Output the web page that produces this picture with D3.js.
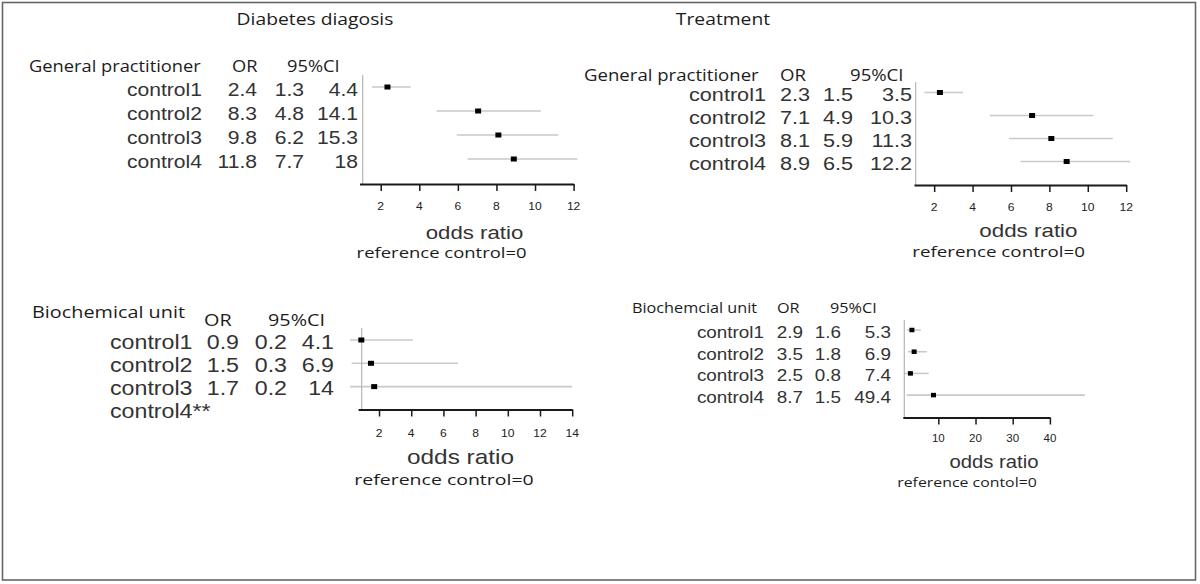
<!DOCTYPE html>
<html>
<head>
<meta charset="utf-8">
<script src="https://cdn.jsdelivr.net/npm/d3@7/dist/d3.min.js"></script>
<style>
  html, body { margin: 0; padding: 0; background: #fff; }
  svg { display: block; }
</style>
</head>
<body>
<svg id="chart" width="1200" height="584"></svg>
<script>
// ---------------- DATA ----------------
const titles = ["Diabetes diagosis", "Treatment"];
const groupNames = ["General practitioner", "General practitioner", "Biochemical unit", "Biochemcial unit"];
const footNotes = ["reference control=0", "reference control=0", "reference control=0", "reference contol=0"];

const gpControls = ["control1", "control2", "control3", "control4"];
const bioDxControls = ["control1", "control2", "control3", "control4**"];
const bioTxControls = ["control1", "control2", "control3", "control4"];

// Diabetes diagnosis – General practitioner (table text)
const dxGpOrText = ["2.4", "8.3", "9.8", "11.8"];
const dxGpLoText = ["1.3", "4.8", "6.2", "7.7"];
const dxGpHiText = ["4.4", "14.1", "15.3", "18"];
// Diabetes diagnosis – General practitioner (as plotted)
const dxGpOr = [2.35, 7.05, 8.1, 8.9];
const dxGpLo = [1.55, 4.9, 5.95, 6.5];
const dxGpHi = [3.55, 10.3, 11.2, 12.2];

// Treatment – General practitioner
const txGpOrText = ["2.3", "7.1", "8.1", "8.9"];
const txGpLoText = ["1.5", "4.9", "5.9", "6.5"];
const txGpHiText = ["3.5", "10.3", "11.3", "12.2"];
const txGpOr = [2.3, 7.1, 8.1, 8.9];
const txGpLo = [1.5, 4.9, 5.9, 6.5];
const txGpHi = [3.5, 10.3, 11.3, 12.2];

// Diabetes diagnosis – Biochemical unit (control4 not estimable)
const dxBioOrText = ["0.9", "1.5", "1.7"];
const dxBioLoText = ["0.2", "0.3", "0.2"];
const dxBioHiText = ["4.1", "6.9", "14"];
const dxBioOr = [0.9, 1.5, 1.7];
const dxBioLo = [0.2, 0.3, 0.2];
const dxBioHi = [4.1, 6.9, 14];

// Treatment – Biochemical unit
const txBioOrText = ["2.9", "3.5", "2.5", "8.7"];
const txBioLoText = ["1.6", "1.8", "0.8", "1.5"];
const txBioHiText = ["5.3", "6.9", "7.4", "49.4"];
const txBioOr = [2.9, 3.5, 2.5, 8.7];
const txBioLo = [1.6, 1.8, 0.8, 1.5];
const txBioHi = [5.3, 6.9, 7.4, 49.4];

// Axis ticks
const dxGpTicks = [2, 4, 6, 8, 10, 12];
const txGpTicks = [2, 4, 6, 8, 10, 12];
const dxBioTicks = [2, 4, 6, 8, 10, 12, 14];
const txBioTicks = [10, 20, 30, 40];
const axisDomains = [[0.9, 12], [0.95, 12], [0.7, 14], [0.45, 40]];

// ---------------- LAYOUT ----------------
const SANS = "'Open Sans', 'DejaVu Sans', sans-serif";
const ARIAL = "'Liberation Sans', Arial, sans-serif";
const INK = "#1c1c1c";

const svg = d3.select("#chart");

svg.append("rect")
  .attr("x", 2.5).attr("y", 2.5).attr("width", 1193).attr("height", 577.5)
  .attr("fill", "none").attr("stroke", "#666").attr("stroke-width", 1.6);

function txt(g, x, y, s, o) {
  return g.append("text")
    .attr("transform", `translate(${x},${y}) scale(${o.sx || 1},1)`)
    .attr("text-anchor", o.anchor || "start")
    .style("font-family", o.family || ARIAL)
    .style("font-size", o.size + "px")
    .style("fill", o.color || INK)
    .text(s);
}

// titles
txt(svg, 315, 25, titles[0], { family: SANS, size: 16.5, sx: 1.17, anchor: "middle" });
txt(svg, 723, 25, titles[1], { family: SANS, size: 16.5, sx: 1.17, anchor: "middle" });

const panels = [
  { name: groupNames[0], foot: footNotes[0], controls: gpControls,
    orT: dxGpOrText, loT: dxGpLoText, hiT: dxGpHiText, or: dxGpOr, lo: dxGpLo, hi: dxGpHi,
    ticks: dxGpTicks, domain: axisDomains[0],
    L: { hx: 29, hy: 72, orX: 232, ciX: 287, hSize: 15.5, hsx: 1.18,
         labR: 202, orR: 257, loR: 304, hiR: 358, rSize: 18.5, rsx: 1.14, dy: 8.5,
         y0: 87, step: 24, x0: 359.5, x1: 573.6, yAxDx: 3.2, yTop: 75, axY: 184,
         tickY: 210, tSize: 11, tsx: 1.1, mw: 6, mh: 5,
         orLX: 474.5, orLY: 238.5, orLSize: 18.5, orLsx: 1.2,
         fX: 441.6, fY: 257.5, fSize: 14, fsx: 1.32 } },
  { name: groupNames[1], foot: footNotes[1], controls: gpControls,
    orT: txGpOrText, loT: txGpLoText, hiT: txGpHiText, or: txGpOr, lo: txGpLo, hi: txGpHi,
    ticks: txGpTicks, domain: axisDomains[1],
    L: { hx: 584, hy: 81, orX: 780, ciX: 850, hSize: 15.5, hsx: 1.2,
         labR: 766, orR: 810, loR: 853, hiR: 912, rSize: 18.5, rsx: 1.17, dy: 8.5,
         y0: 92.5, step: 23, x0: 914, x1: 1126.2, yAxDx: 1.7, yTop: 82, axY: 185,
         tickY: 211, tSize: 11, tsx: 1.1, mw: 6, mh: 5,
         orLX: 1028.4, orLY: 237, orLSize: 18.5, orLsx: 1.21,
         fX: 998.6, fY: 257, fSize: 14, fsx: 1.34 } },
  { name: groupNames[2], foot: footNotes[2], controls: bioDxControls,
    orT: dxBioOrText, loT: dxBioLoText, hiT: dxBioHiText, or: dxBioOr, lo: dxBioLo, hi: dxBioHi,
    ticks: dxBioTicks, domain: axisDomains[2],
    L: { hx: 32, hy: 318, orX: 204, ciX: 268, ohy: 326, hSize: 16, hsx: 1.24,
         labL: 110, orR: 239, loR: 287, hiR: 334, rSize: 19.5, rsx: 1.19, dy: 8.5,
         y0: 340, step: 23.3, x0: 358.1, x1: 572.2, yAxDx: 3.6, yTop: 328, axY: 409.5,
         tickY: 437, tSize: 11, tsx: 1.1, mw: 6, mh: 5,
         orLX: 460.5, orLY: 464, orLSize: 20, orLsx: 1.22,
         fX: 444, fY: 485, fSize: 15, fsx: 1.3 } },
  { name: groupNames[3], foot: footNotes[3], controls: bioTxControls,
    orT: txBioOrText, loT: txBioLoText, hiT: txBioHiText, or: txBioOr, lo: txBioLo, hi: txBioHi,
    ticks: txBioTicks, domain: axisDomains[3],
    L: { hx: 632, hy: 313, orX: 777, ciX: 830, hSize: 14.5, hsx: 1.12,
         labR: 764, orR: 803, loR: 841, hiR: 891, rSize: 17, rsx: 1.11, dy: 8,
         y0: 330, step: 21.7, x0: 902.8, x1: 1049.9, yAxDx: 1.5, yTop: 320, axY: 417.5,
         tickY: 441.5, tSize: 10.5, tsx: 1.1, mw: 5, mh: 4.5,
         orLX: 994, orLY: 467.5, orLSize: 17.5, orLsx: 1.16,
         fX: 967, fY: 486.5, fSize: 13, fsx: 1.22 } }
];

panels.forEach(p => {
  const L = p.L;
  const g = svg.append("g");
  const y = d3.scalePoint().domain(p.controls).range([L.y0, L.y0 + L.step * (p.controls.length - 1)]);
  const x = d3.scaleLinear().domain(p.domain).range([L.x0, L.x1]);

  // headers
  txt(g, L.hx, L.hy, p.name, { family: SANS, size: L.hSize, sx: L.hsx });
  txt(g, L.orX, L.ohy || L.hy, "OR", { family: SANS, size: L.hSize, sx: L.hsx });
  txt(g, L.ciX, L.ohy || L.hy, "95%CI", { family: SANS, size: L.hSize, sx: L.hsx });

  // table rows
  p.controls.forEach((c, i) => {
    const yy = y(c) + L.dy;
    const o = { size: L.rSize, sx: L.rsx, anchor: "end", color: "#333" };
    if (L.labL !== undefined) txt(g, L.labL, yy, c, Object.assign({}, o, { anchor: "start" }));
    else txt(g, L.labR, yy, c, o);
    if (i < p.orT.length) {
      txt(g, L.orR, yy, p.orT[i], o);
      txt(g, L.loR, yy, p.loT[i], o);
      txt(g, L.hiR, yy, p.hiT[i], o);
    }
  });

  // CI lines
  const rows = p.or.map((v, i) => ({ c: p.controls[i], or: v, lo: p.lo[i], hi: p.hi[i] }));
  g.selectAll(".ci").data(rows).join("line")
    .attr("x1", d => x(d.lo)).attr("x2", d => x(d.hi))
    .attr("y1", d => y(d.c)).attr("y2", d => y(d.c))
    .attr("stroke", "#c9c9c9").attr("stroke-width", 1.6);

  // y axis line
  g.append("line")
    .attr("x1", L.x0 + L.yAxDx).attr("x2", L.x0 + L.yAxDx)
    .attr("y1", L.yTop).attr("y2", L.axY)
    .attr("stroke", "#b5b5b5").attr("stroke-width", 1.2);

  // x axis
  const ax = g.append("g").attr("transform", `translate(0,${L.axY})`)
    .call(d3.axisBottom(x).tickValues(p.ticks).tickSize(7).tickSizeOuter(0).tickFormat(d3.format("d")));
  ax.select(".domain").attr("stroke", "#1a1a1a").attr("stroke-width", 1.8);
  ax.selectAll(".tick line").attr("stroke", "#1a1a1a").attr("stroke-width", 1.5);
  ax.selectAll(".tick text").remove();
  p.ticks.forEach(t => {
    txt(g, x(t), L.tickY, String(t), { size: L.tSize, sx: L.tsx, anchor: "middle", color: "#222" });
  });

  // markers
  g.selectAll(".m").data(rows).join("rect")
    .attr("x", d => x(d.or) - L.mw / 2).attr("y", d => y(d.c) - L.mh / 2)
    .attr("width", L.mw).attr("height", L.mh).attr("fill", "#000");

  // axis labels
  txt(g, L.orLX, L.orLY, "odds ratio", { size: L.orLSize, sx: L.orLsx, anchor: "middle", color: "#333" });
  txt(g, L.fX, L.fY, p.foot, { family: SANS, size: L.fSize, sx: L.fsx, anchor: "middle" });
});
</script>
</body>
</html>
